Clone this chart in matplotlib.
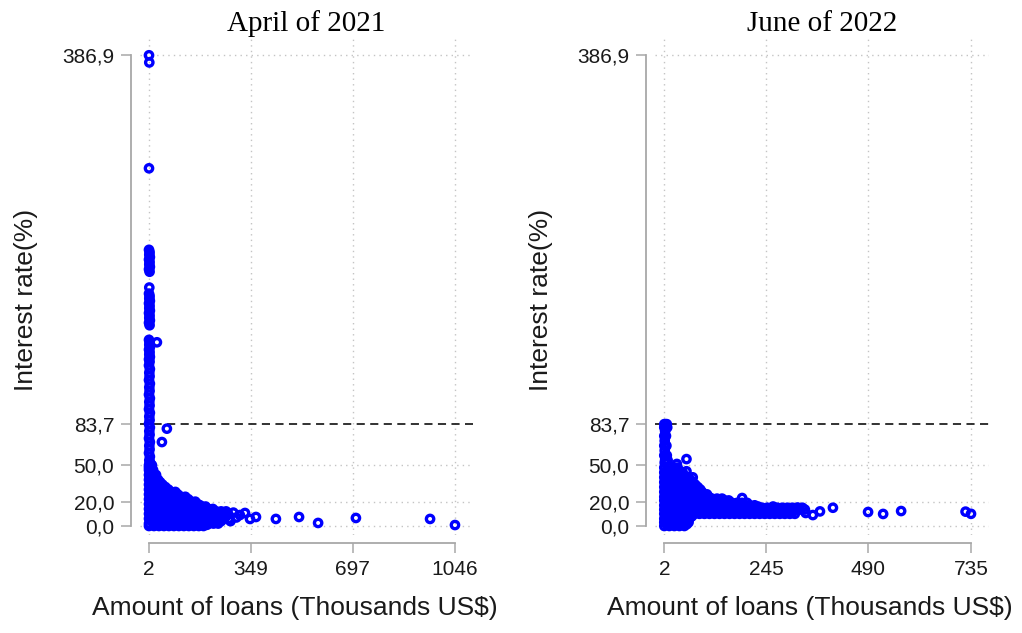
import matplotlib
matplotlib.use("Agg")
import matplotlib.pyplot as plt

plt.rcParams["font.family"] = ["Liberation Sans", "DejaVu Sans"]

# ---------------- data ----------------
titles = ["April of 2021", "June of 2022"]
x_label = "Amount of loans (Thousands US$)"
y_label = "Interest rate(%)"
y_ticks = [0.0, 20.0, 50.0, 83.7, 386.9]
y_tick_labels = ["0,0", "20,0", "50,0", "83,7", "386,9"]
threshold = 83.7
left_x_ticks = [2, 349, 697, 1046]
right_x_ticks = [2, 245, 490, 735]

# April 2021 - isolated points
left_sparse_x = [2, 3, 2, 29, 63, 46, 176, 200, 290, 300, 280, 312, 329.5, 346.6,
                 367, 435, 514, 579, 708, 961, 1046]
left_sparse_y = [386.9, 381, 294, 151, 80, 69, 17, 1, 11, 7, 4, 9, 10.7, 5.8,
                 7.4, 5.8, 7.4, 2.5, 6.6, 5.8, 0.8]
# April 2021 - vertical column of small loans
left_col_x = [2, 4, 3, 5, 2, 4, 3, 5, 2, 4,
              3,
              2, 4, 3, 5, 2, 4, 3, 5, 2, 4, 3, 5, 2, 4,
              2, 4, 3, 5, 2, 4, 3, 5, 2, 4,
              2, 5, 3, 4, 2, 5, 3, 4, 2, 5, 3, 4, 2, 5, 3, 4, 2, 5, 3, 4, 2, 5,
              3, 4, 2, 5, 3, 4, 2, 5, 3, 4, 6]
left_col_y = [227, 225, 223, 221, 219, 217, 215, 213, 211, 209,
              196,
              191, 189, 187, 185, 183, 181, 179, 177, 175, 173, 171, 169, 167, 165,
              153, 151, 149, 147, 145, 143, 141, 139, 137, 135,
              132, 129, 126, 123, 120, 117, 114, 111, 108, 105, 102, 99, 96, 93, 90,
              87, 84, 81, 78, 75, 72, 69, 66, 63, 60, 57, 54, 51, 48, 45, 42, 39, 52]
# April 2021 - dense cloud, by rate level
left_rows_y = [50, 48, 46, 44, 42, 40, 38, 36, 34, 32, 30, 28, 26, 24, 22, 20,
               18, 16, 14, 12, 10, 8, 6, 4, 2, 0]
left_rows_x = [
    [2, 12],
    [7],
    [2, 16],
    [9],
    [2, 14, 26],
    [10, 22],
    [2, 18, 33],
    [10, 26, 40],
    [2, 18, 34, 48],
    [10, 27, 44, 58],
    [2, 19, 36, 53, 68],
    [10, 27, 44, 61, 78, 92],
    [2, 19, 36, 53, 70, 86, 100],
    [10, 27, 44, 61, 78, 95, 112, 126],
    [2, 19, 36, 53, 70, 87, 104, 120, 136],
    [10, 27, 44, 61, 78, 95, 112, 129, 146, 160],
    [2, 19, 36, 53, 70, 87, 104, 121, 138, 155, 168],
    [10, 27, 44, 61, 78, 95, 112, 129, 146, 163, 180, 195],
    [2, 19, 36, 53, 70, 87, 104, 121, 138, 155, 172, 189, 205, 220],
    [10, 27, 44, 61, 78, 95, 112, 129, 146, 163, 180, 197, 214, 231, 248, 265],
    [2, 19, 36, 53, 70, 87, 104, 121, 138, 155, 172, 189, 206, 223, 240, 257, 272],
    [10, 27, 44, 61, 78, 95, 112, 129, 146, 163, 180, 197, 214, 231, 248, 265],
    [2, 19, 36, 53, 70, 87, 104, 121, 138, 155, 172, 189, 206, 223, 240, 257, 275],
    [10, 27, 44, 61, 78, 95, 112, 129, 146, 163, 180, 197, 214, 231, 248],
    [2, 19, 36, 53, 70, 87, 104, 121, 138, 155, 172, 189, 206, 222, 238],
    [2, 19, 36, 53, 70, 87, 104, 121, 138, 155, 172, 188],
]

# June 2022 - isolated points
right_sparse_x = [2, 8, 5, 2, 9, 4, 2, 6, 3, 2, 7, 3, 2, 8, 4, 10, 3,
                  55, 32, 55, 70, 188, 226, 262, 321, 340, 357, 374, 405, 489,
                  525, 568, 722, 735]
right_sparse_y = [83.7, 83.7, 83.7, 81, 81, 78, 74, 74, 70, 66, 66, 62, 58, 58, 54,
                  54, 52,
                  55, 51, 45, 40, 23, 16, 16, 15, 10.7, 9, 12, 15, 11.5,
                  9.9, 12.3, 11.8, 10]
# June 2022 - dense cloud, by rate level
right_rows_y = [48, 46, 44, 42, 40, 38, 36, 34, 32, 30, 28, 26, 24, 22.5, 21, 19,
                17, 15, 13.5, 11.5, 10, 8, 6, 4.5, 3, 1.5, 0]
right_rows_x = [
    [2, 14, 26, 34],
    [8, 20, 30],
    [2, 14, 26, 38, 46],
    [8, 20, 32, 42],
    [2, 14, 26, 38, 50, 60],
    [8, 20, 32, 44, 56, 64],
    [2, 14, 26, 38, 50, 62, 70],
    [8, 20, 32, 44, 56, 66, 76],
    [2, 14, 26, 38, 50, 62, 74, 82],
    [8, 20, 32, 44, 56, 68, 80, 88],
    [2, 14, 26, 38, 50, 62, 74, 86, 92],
    [8, 20, 32, 44, 56, 68, 80, 92, 104],
    [2, 14, 26, 38, 50, 62, 74, 86, 98, 108],
    [8, 20, 32, 44, 56, 68, 80, 92, 104, 116, 128, 140],
    [2, 14, 26, 38, 50, 62, 74, 86, 98, 110, 122, 134, 146, 156],
    [8, 20, 32, 44, 56, 68, 80, 92, 104, 116, 128, 140, 152, 164, 176, 188, 200],
    [2, 14, 26, 38, 50, 62, 74, 86, 98, 110, 122, 134, 146, 158, 170, 182, 194,
     206, 218],
    [8, 20, 32, 44, 56, 68, 80, 92, 104, 116, 128, 140, 152, 164, 176, 188, 200,
     212, 224, 236, 248, 260, 272, 284, 296, 308, 320, 332],
    [2, 14, 26, 38, 50, 62, 74, 86, 98, 110, 122, 134, 146, 158, 170, 182, 194,
     206, 218, 230, 242, 254, 266, 278, 290, 302, 314, 326, 338],
    [8, 20, 32, 44, 56, 68, 80, 92, 104, 116, 128, 140, 152, 164, 176, 188, 200,
     212, 224, 236, 248, 260, 272, 284, 296, 308],
    [2, 14, 26, 38, 50, 62, 74, 86, 98, 110, 122, 134, 146, 158, 170, 182, 194,
     206, 218, 230, 242, 254, 266, 278, 290, 302, 314],
    [8, 20, 32, 44, 56, 68],
    [2, 14, 26, 38, 50, 62],
    [8, 20, 32, 44, 56],
    [2, 14, 26, 38, 50, 60],
    [8, 20, 32, 44, 56],
    [2, 14, 26, 38, 50],
]


def expand(rows_y, rows_x):
    xs, ys = [], []
    for yv, row in zip(rows_y, rows_x):
        xs.extend(row)
        ys.extend([yv] * len(row))
    return xs, ys


lx_d, ly_d = expand(left_rows_y, left_rows_x)
rx_d, ry_d = expand(right_rows_y, right_rows_x)
left_x = left_sparse_x + left_col_x + lx_d
left_y = left_sparse_y + left_col_y + ly_d
right_x = right_sparse_x + rx_d
right_y = right_sparse_y + ry_d

# ---------------- figure ----------------
W, H = 1022, 633
fig = plt.figure(figsize=(W / 100, H / 100), dpi=100)
fig.patch.set_facecolor("white")

BLUE = "#0000ff"
TXT = "#1a1a1a"
SPINE = "#a8a8a8"
GRID = "#c4c4c4"


def make_panel(left_px, right_px, xlim, xticks, title, label_x):
    ax = fig.add_axes([left_px / W, (H - 535) / H, (right_px - left_px) / W, (535 - 38) / H])
    ax.set_xlim(*xlim)
    ax.set_ylim(-7.4, 401.1)
    for s in ["top", "right"]:
        ax.spines[s].set_visible(False)
    ax.spines["left"].set_position(("outward", 6.5))
    ax.spines["bottom"].set_position(("outward", 5.8))
    ax.spines["left"].set_bounds(0, 386.9)
    ax.spines["bottom"].set_bounds(xticks[0], xticks[-1])
    for s in ["left", "bottom"]:
        ax.spines[s].set_color(SPINE)
        ax.spines[s].set_linewidth(1.3)
    ax.set_yticks(y_ticks)
    ax.set_yticklabels(y_tick_labels)
    ax.set_xticks(xticks)
    ax.set_xticklabels([str(v) for v in xticks])
    ax.tick_params(axis="both", which="major", length=7, width=1.1, color=SPINE,
                   labelsize=15, labelcolor=TXT, pad=5)
    for yv in [0.0, 20.0, 50.0, 386.9]:
        ax.axhline(yv, color=GRID, linestyle=(0, (1, 3)), linewidth=1.0, zorder=0)
    for xv in xticks:
        ax.axvline(xv, color=GRID, linestyle=(0, (1, 3)), linewidth=1.0, zorder=0)
    ax.axhline(threshold, color="#222222", linestyle=(0, (4.5, 3)), linewidth=1.3, zorder=1)
    ax.set_title(title, family="Liberation Serif", fontsize=21, color="black", pad=5)
    ax.set_xlabel(x_label, fontsize=19, color=TXT)
    ax.set_ylabel(y_label, fontsize=19, color=TXT)
    ax.xaxis.set_label_coords(label_x, -0.122)
    ax.yaxis.set_label_coords(-0.305, 0.473)
    return ax


axL = make_panel(140, 473, (-28.7, 1107.5), left_x_ticks, titles[0], 0.465)
axR = make_panel(655, 989, (-20.2, 778.0), right_x_ticks, titles[1], 0.464)

for ax, xs, ys in [(axL, left_x, left_y), (axR, right_x, right_y)]:
    ax.scatter(xs, ys, s=28, facecolors="none", edgecolors=BLUE, linewidths=2.4,
               zorder=3, clip_on=False)

fig.savefig("out.png", dpi=100, facecolor="white")
